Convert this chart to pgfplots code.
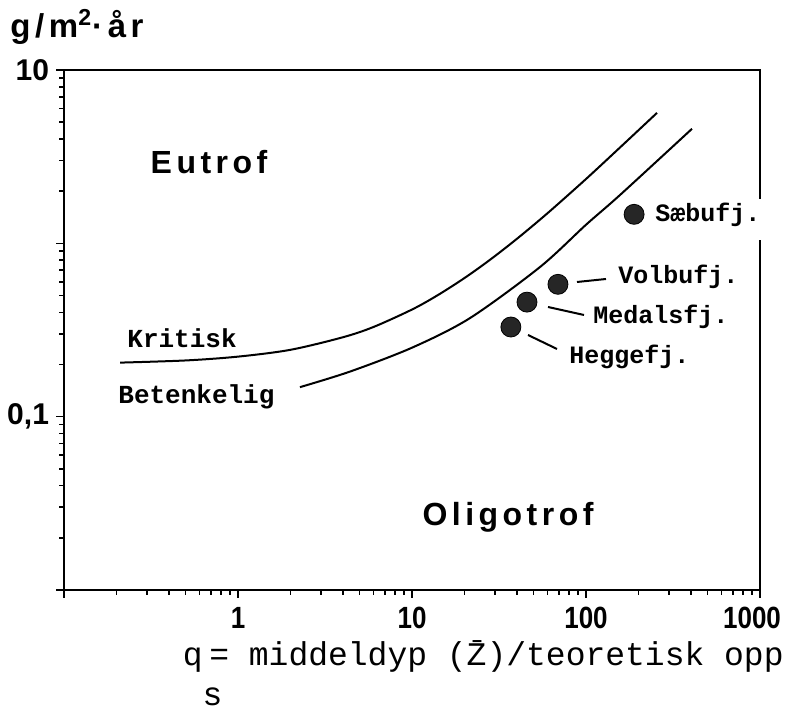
\documentclass[border=0pt]{standalone}
\usepackage{fontspec}
\setmainfont{Liberation Sans}
\setmonofont{Liberation Mono}
\newfontfamily\spaced[LetterSpace=14]{Liberation Sans}
\usepackage{graphicx}
\usepackage{pgfplots}
\pgfplotsset{compat=1.18}

\newcommand\fs[1]{\fontsize{#1}{#1}\selectfont}
% smal, høy tallskrift som på x-aksen
\newcommand\tl[1]{\scalebox{1}[1.18]{#1}}

\begin{document}
\begin{tikzpicture}
\begin{axis}[
    at={(0,0)}, anchor=south west,
    width=348pt, height=260pt, scale only axis,
    xmode=log, ymode=log,
    xmin=0.1, xmax=1000, ymin=0.01, ymax=10,
    xtick={0.1,1,10,100,1000},
    xticklabels={,\tl{1},\tl{10},\tl{100},\tl{1000}\rule{8pt}{0pt}},
    ytick={0.01,0.1,1,10}, yticklabels={,{0,1},,10},
    tick align=outside, xtick pos=bottom, ytick pos=left,
    major tick length=4pt, minor tick length=2.5pt,
    axis line style={line width=1pt},
    every tick/.style={line width=0.8pt, black},
    xticklabel style={font=\bfseries\fs{13}, yshift=-1pt},
    yticklabel style={font=\bfseries\fs{15}},
]
% Kritisk
\addplot[black, line width=1pt, smooth] coordinates {
    (0.21,0.205) (0.5,0.211) (1,0.222) (2,0.243) (4,0.287) (6,0.329)
    (10,0.415) (14,0.501) (20,0.63) (28,0.802) (40,1.06) (60,1.49)
    (100,2.35) (160,3.64) (256,5.66)
};
% Betenkelig
\addplot[black, line width=1pt, smooth] coordinates {
    (2.27,0.148) (4.4,0.182) (10,0.25) (21.5,0.37) (54.4,0.73)
    (100,1.28) (156.8,1.90) (406.6,4.58)
};
% innsjøer
\addplot[only marks, mark=*, mark size=5pt, draw=black, fill=black!85] coordinates {
    (189,1.47) (69,0.58) (45.8,0.458) (37,0.329)
};
\end{axis}

\begin{scope}[x=0.5pt, y=-0.5pt, shift={(-32pt,295pt)}]
% brudd i høyre akselinje
\draw[white, line width=3pt] (761,199) -- (761,240);
\node[font=\spaced\bfseries\fs{16}] at (209,162) {Eutrof};
\node[font=\spaced\bfseries\fs{16}] at (508,517) {Oligotrof};
\node[font=\ttfamily\bfseries\fs{13}, anchor=west, inner sep=0pt] at (127,338) {Kritisk};
\node[font=\ttfamily\bfseries\fs{13}, anchor=west, inner sep=0pt] at (118,397) {Betenkelig};
\node[font=\ttfamily\bfseries\fs{12.5}, anchor=west, inner sep=0pt] at (655,215) {Sæbufj.};
\node[font=\ttfamily\bfseries\fs{12.5}, anchor=west, inner sep=0pt] at (618,277) {Volbufj.};
\node[font=\ttfamily\bfseries\fs{12.5}, anchor=west, inner sep=0pt] at (593,317) {Medalsfj.};
\node[font=\ttfamily\bfseries\fs{12.5}, anchor=west, inner sep=0pt] at (569,357) {Heggefj.};
\draw[line width=1pt] (577,282) -- (606,279);
\draw[line width=1pt] (548,307) -- (584,315);
\draw[line width=1pt] (528,335) -- (557,349);
\node[font=\spaced\bfseries\fs{16.5}, anchor=west, inner sep=0pt] at (10,27)
    {g/m\textsuperscript{2}\textperiodcentered år};
\node[font=\ttfamily\fs{16.5}, anchor=base east, inner sep=0pt] at (784,666)
    {q\raisebox{-1.2em}{s}\kern-0.4em= middeldyp (\={Z})/teoretisk opp};
\pgfresetboundingbox
\path (0,0) rectangle (786,710);
\end{scope}
\end{tikzpicture}
\end{document}
